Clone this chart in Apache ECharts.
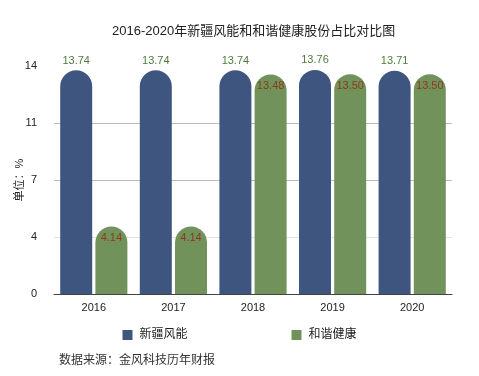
<!DOCTYPE html>
<html>
<head>
<meta charset="utf-8">
<script src="https://cdn.jsdelivr.net/npm/echarts@6/dist/echarts.min.js"></script>
<style>
  html, body { margin: 0; padding: 0; background: #fff; }
  #chart { width: 479px; height: 376px; }
</style>
</head>
<body>
<div id="chart"></div>
<script>
const years = ['2016', '2017', '2018', '2019', '2020']
const xinjiang = [13.74, 13.74, 13.74, 13.76, 13.71]
const hexie = [4.14, 4.14, 13.48, 13.50, 13.50]
const seriesNames = ['新疆风能', '和谐健康']

const font = '"Helvetica Neue", Arial, "Noto Sans CJK SC", sans-serif'

// split line colours for the ticks 0, 3.5, 7, 10.5, 14 (top one hidden)
const gridColors = ['#bbbbbb', '#e2e2e2', '#bbbbbb', '#bbbbbb', 'white']

let mychart = echarts.init(document.getElementById('chart'))
mychart.setOption({
  animation: false,
  textStyle: { fontFamily: font },
  title: {
    text: '2016-2020年新疆风能和和谐健康股份占比对比图',
    left: 107,
    top: 20,
    textStyle: { fontSize: 13, fontWeight: 'normal', color: '#222', fontFamily: font }
  },
  legend: {
    data: seriesNames,
    bottom: 30,
    left: 'center',
    icon: 'rect',
    itemWidth: 10,
    itemHeight: 10,
    itemGap: 104,
    itemStyle: { borderWidth: 0 },
    textStyle: { fontSize: 12, color: '#222', padding: [0, 0, 0, 2] }
  },
  graphic: [{
    type: 'text',
    left: 59,
    top: 355,
    style: { text: '数据来源：金风科技历年财报', fontSize: 12, fill: '#333', fontFamily: font }
  }],
  grid: { left: 54, right: 27, top: 66, bottom: 82, outerBoundsMode: 'none', containLabel: false },
  xAxis: {
    type: 'category',
    data: years,
    axisLine: { lineStyle: { color: '#444' } },
    axisTick: { show: false },
    axisLabel: { color: '#222', fontSize: 11, margin: 8 }
  },
  yAxis: {
    type: 'value',
    min: 0,
    max: 14,
    interval: 3.5,
    name: '单位：%',
    nameLocation: 'middle',
    nameGap: 29,
    nameMoveOverlap: false,
    nameTextStyle: { fontSize: 11, color: '#222' },
    axisLabel: { color: '#222', fontSize: 11, margin: 17, formatter: v => Math.round(v) },
    axisLine: { show: false },
    axisTick: { show: false },
    splitLine: { lineStyle: { color: gridColors } }
  },
  series: [
    {
      name: seriesNames[0],
      type: 'bar',
      data: xinjiang,
      barWidth: 32,
      barGap: '10%',
      itemStyle: { color: '#3e5580', borderRadius: [16, 16, 0, 0] },
      label: {
        show: true,
        position: 'top',
        distance: 4,
        color: '#4f7a3a',
        fontSize: 11,
        formatter: p => p.value.toFixed(2)
      }
    },
    {
      name: seriesNames[1],
      type: 'bar',
      data: hexie,
      barWidth: 32,
      itemStyle: { color: '#71925a', borderRadius: [16, 16, 0, 0] },
      label: {
        show: true,
        position: 'insideTop',
        distance: 6,
        color: '#8c3b1c',
        fontSize: 11,
        formatter: p => p.value.toFixed(2)
      }
    }
  ]
})
</script>
</body>
</html>
